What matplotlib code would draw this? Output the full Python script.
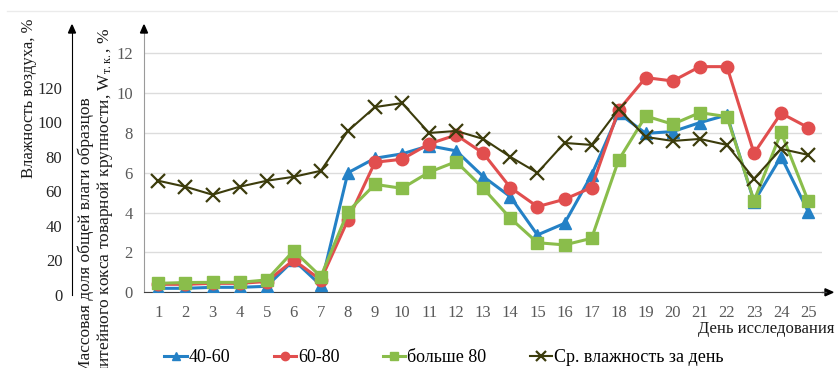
import matplotlib
matplotlib.use("Agg")
import matplotlib.pyplot as plt
from matplotlib.lines import Line2D

plt.rcParams['font.family'] = ['Liberation Serif', 'DejaVu Serif']
plt.rcParams['mathtext.fontset'] = 'custom'
plt.rcParams['mathtext.rm'] = 'Liberation Serif'
plt.rcParams['mathtext.it'] = 'Liberation Serif:italic'

days = list(range(1, 26))
s_40_60 = [0.2, 0.2, 0.25, 0.25, 0.3, 1.62, 0.35, 6.0, 6.73, 6.95, 7.36, 7.1, 5.81,
           4.8, 2.88, 3.46, 5.89, 8.99, 7.98, 8.07, 8.52, 8.9, 4.55, 6.81, 4.05]
s_60_80 = [0.4, 0.4, 0.45, 0.45, 0.54, 1.62, 0.62, 3.63, 6.53, 6.68, 7.45, 7.9, 6.98,
           5.26, 4.3, 4.67, 5.26, 9.15, 10.78, 10.61, 11.33, 11.33, 6.98, 8.99, 8.27]
s_80 = [0.45, 0.49, 0.5, 0.5, 0.62, 2.09, 0.79, 4.05, 5.42, 5.22, 6.03, 6.56, 5.22,
        3.72, 2.49, 2.38, 2.71, 6.64, 8.85, 8.44, 9.02, 8.82, 4.6, 8.03, 4.59]
humidity = [56, 53, 49, 53, 56, 58, 61, 81, 93, 95, 80, 81, 77,
            68, 60, 75, 74, 92, 78, 76, 77, 74, 57, 72, 69]
series_names = ["40-60", "60-80", "больше 80", "Ср. влажность за день"]
inner_ticks = [0, 2, 4, 6, 8, 10, 12]
outer_ticks = [0, 20, 40, 60, 80, 100, 120]

W, H = 838, 368
fig = plt.figure(figsize=(W / 100, H / 100), dpi=100)

def fx(px):
    return px / W

def fy(py):
    return 1 - py / H

# main axes
left, right, bottom, top = 144, 822, 292.3, 29.4
ax = fig.add_axes([fx(left), fy(bottom), fx(right - left), (bottom - top) / H])
ax.set_xlim(0.47, 25.51)
ax.set_ylim(0, 13.2)

c_blue = '#2481C6'
c_red = '#E14E4E'
c_green = '#8ABD4B'
c_x = '#3C3C0C'

ax.plot(days, s_40_60, color=c_blue, lw=2.2, marker='^', ms=9, zorder=3)
ax.plot(days, s_60_80, color=c_red, lw=2.2, marker='o', ms=9, zorder=4)
ax.plot(days, s_80, color=c_green, lw=2.2, marker='s', ms=9, zorder=5)
ax.plot(days, [h / 10 for h in humidity], color=c_x, lw=1.5, marker='x', ms=10,
        mew=1.6, zorder=6)

ax.set_yticks(inner_ticks)
ax.set_xticks(days)
ax.set_xticklabels([str(d) for d in days])
ax.grid(axis='y', color='#DCDCDC', lw=1)
ax.set_axisbelow(True)
for sp in ['top', 'right']:
    ax.spines[sp].set_visible(False)
ax.spines['left'].set_color('#9A9A9A')
ax.spines['bottom'].set_color('#404040')
ax.tick_params(axis='both', length=0, labelsize=12, colors='#595959')
ax.tick_params(axis='x', pad=9)
ax.tick_params(axis='y', pad=8)

# arrows
fig.add_artist(plt.Polygon([[fx(144 - 3.5), fy(33)], [fx(144 + 3.5), fy(33)], [fx(144), fy(25)]],
                           closed=True, color='black', transform=fig.transFigure))
fig.add_artist(Line2D([fx(822), fx(826)], [fy(292.3), fy(292.3)], color='#404040', lw=1,
                      transform=fig.transFigure))
fig.add_artist(plt.Polygon([[fx(825), fy(288.8)], [fx(825), fy(295.8)], [fx(833), fy(292.3)]],
                           closed=True, color='black', transform=fig.transFigure))

# outer humidity axis
ax2 = fig.add_axes([fx(72), fy(295), 0.0005, (295 - 30) / H])
ax2.set_ylim(0, (295 - 30) / 1.725)
ax2.set_xticks([])
ax2.set_yticks(outer_ticks)
for sp in ['top', 'right', 'bottom']:
    ax2.spines[sp].set_visible(False)
ax2.spines['left'].set_color('black')
ax2.tick_params(axis='y', length=0, labelsize=12, colors='#262626', pad=7)
ax2.patch.set_visible(False)
fig.add_artist(plt.Polygon([[fx(72 - 3.5), fy(33)], [fx(72 + 3.5), fy(33)], [fx(72), fy(25)]],
                           closed=True, color='black', transform=fig.transFigure))

# top border line
fig.add_artist(Line2D([fx(7), fx(838)], [fy(11), fy(11)], color='#EBEBEB', lw=1,
                      transform=fig.transFigure))

fig.text(fx(29), fy(98), "Влажность воздуха, %", rotation=90, ha='center', va='center',
         fontsize=12, color='#1a1a1a')
fig.text(fx(96), fy(28),
         "Массовая доля общей влаги образцов\nлитейного кокса товарной крупности, W$_{\\mathrm{т.к.}}$, %",
         rotation=90, ha='center', va='top', multialignment='left', fontsize=12.5,
         color='#1a1a1a', linespacing=1.05)

fig.text(fx(834), fy(329), "День исследования", ha='right', va='center', fontsize=12,
         color='#1a1a1a')

handles = [
    Line2D([], [], color=c_blue, lw=2.2, marker='^', ms=6),
    Line2D([], [], color=c_red, lw=2.2, marker='o', ms=6),
    Line2D([], [], color=c_green, lw=2.2, marker='s', ms=6),
    Line2D([], [], color=c_x, lw=1.5, marker='x', ms=7, mew=1.6),
]
leg = fig.legend(handles, series_names, loc='center', bbox_to_anchor=(fx(444), fy(358)),
                 ncol=4, frameon=False, fontsize=13, handlelength=1.25, handletextpad=0.1,
                 columnspacing=2.4, borderpad=0, borderaxespad=0)

fig.savefig("out.png", dpi=100)
